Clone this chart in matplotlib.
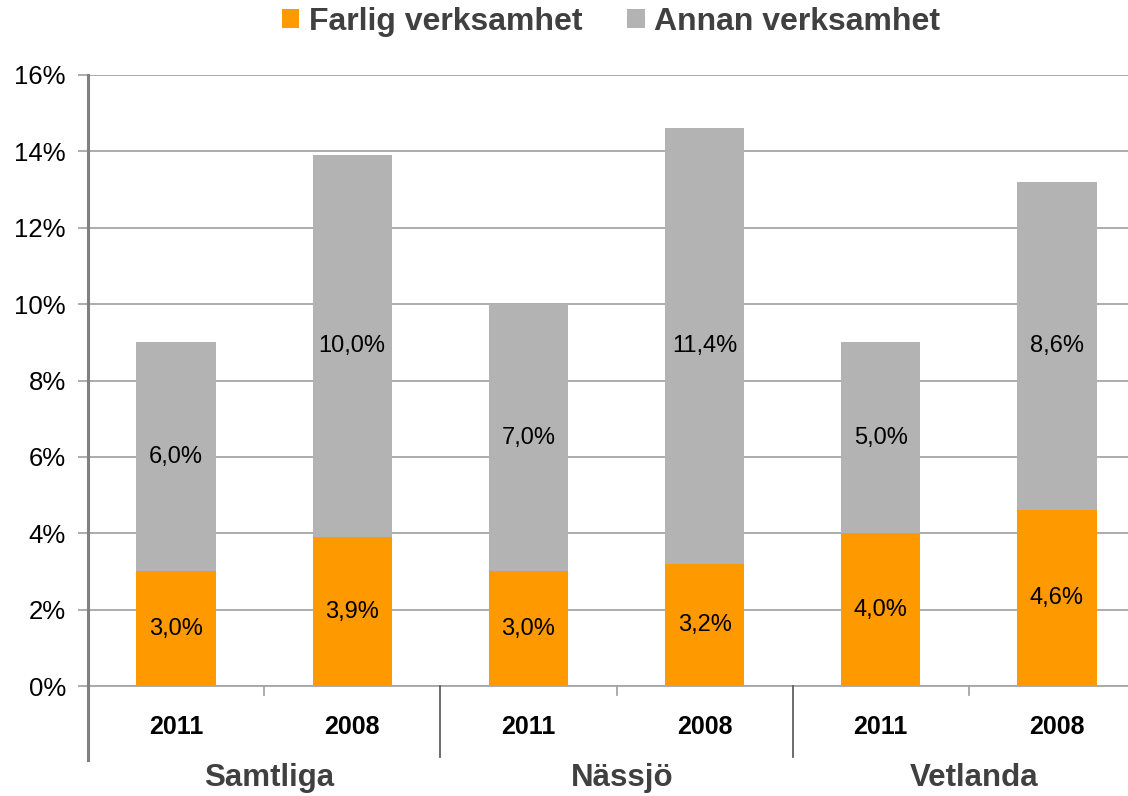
import numpy as np
import matplotlib.pyplot as plt
from matplotlib.lines import Line2D

plt.rcParams['font.family'] = ['Liberation Sans', 'DejaVu Sans']

# data
groups = ['Samtliga', 'Nässjö', 'Vetlanda']
years = ['2011', '2008', '2011', '2008', '2011', '2008']
farlig = [3.0, 3.9, 3.0, 3.2, 4.0, 4.6]
annan = [6.0, 10.0, 7.0, 11.4, 5.0, 8.6]
series_names = ['Farlig verksamhet', 'Annan verksamhet']
yticks = [0, 2, 4, 6, 8, 10, 12, 14, 16]

orange = '#FF9900'
grey = '#B3B3B3'
grid_col = '#A6A6A6'

W, H = 1128, 796
fig = plt.figure(figsize=(W / 100, H / 100), dpi=100)
ax = fig.add_axes([88 / W, (H - 686) / H, 1057 / W, 611 / H])

x = np.arange(len(years))
b1 = ax.bar(x, farlig, width=0.45, color=orange, zorder=3)
b2 = ax.bar(x, annan, width=0.45, bottom=farlig, color=grey, zorder=3)

for xi, f, a in zip(x, farlig, annan):
    ax.text(xi, f / 2, f'{f:.1f}%'.replace('.', ','), ha='center', va='center',
            fontsize=17, color='black', zorder=4)
    ax.text(xi, f + a / 2, f'{a:.1f}%'.replace('.', ','), ha='center', va='center',
            fontsize=17, color='black', zorder=4)

ax.set_xlim(-0.5, 5.5)
ax.set_ylim(0, 16)
ax.set_yticks(yticks)
ax.set_yticklabels([f'{t}%' for t in yticks], fontsize=18.5)
ax.yaxis.grid(True, color=grid_col, linewidth=1.3, zorder=0)
ax.tick_params(axis='y', length=7, color=grid_col, width=1.3, pad=9)
ax.set_xticks([])

for s in ['top', 'right', 'bottom', 'left']:
    ax.spines[s].set_visible(False)

trans = ax.get_xaxis_transform()
# bottom axis line
ax.plot([-0.5, 5.5], [0, 0], transform=trans, color=grid_col, lw=1.3, clip_on=False, zorder=2)
# left axis line (extends below)
ax.add_line(Line2D([-0.5, -0.5], [-74 / 611, 1], transform=trans, color='#808080',
                   lw=2.2, clip_on=False))
# short ticks within groups
for xt in [0.5, 2.5, 4.5]:
    ax.add_line(Line2D([xt, xt], [-9 / 611, 0], transform=trans, color=grid_col,
                       lw=1.3, clip_on=False))
# group separators
for xt in [1.5, 3.5]:
    ax.add_line(Line2D([xt, xt], [-71 / 611, 0], transform=trans, color='#606060',
                       lw=1.3, clip_on=False))

for xi, yr in zip(x, years):
    ax.text(xi, -41 / 611, yr, transform=trans, ha='center', va='center',
            fontsize=18, fontweight='bold', color='black')
for gi, g in enumerate(groups):
    ax.text(2 * gi + 0.53, -92 / 611, g, transform=trans, ha='center', va='center',
            fontsize=22.5, fontweight='bold', color='#404040')

leg = fig.legend([b1, b2], series_names, loc='center', bbox_to_anchor=(611 / W, 1 - 22 / H),
                 ncol=2, frameon=False, fontsize=23, handlelength=0.55, handleheight=0.55,
                 handletextpad=0.3, columnspacing=1.4)
for t in leg.get_texts():
    t.set_fontweight('bold')
    t.set_color('#404040')

fig.savefig('out.png', dpi=100)
